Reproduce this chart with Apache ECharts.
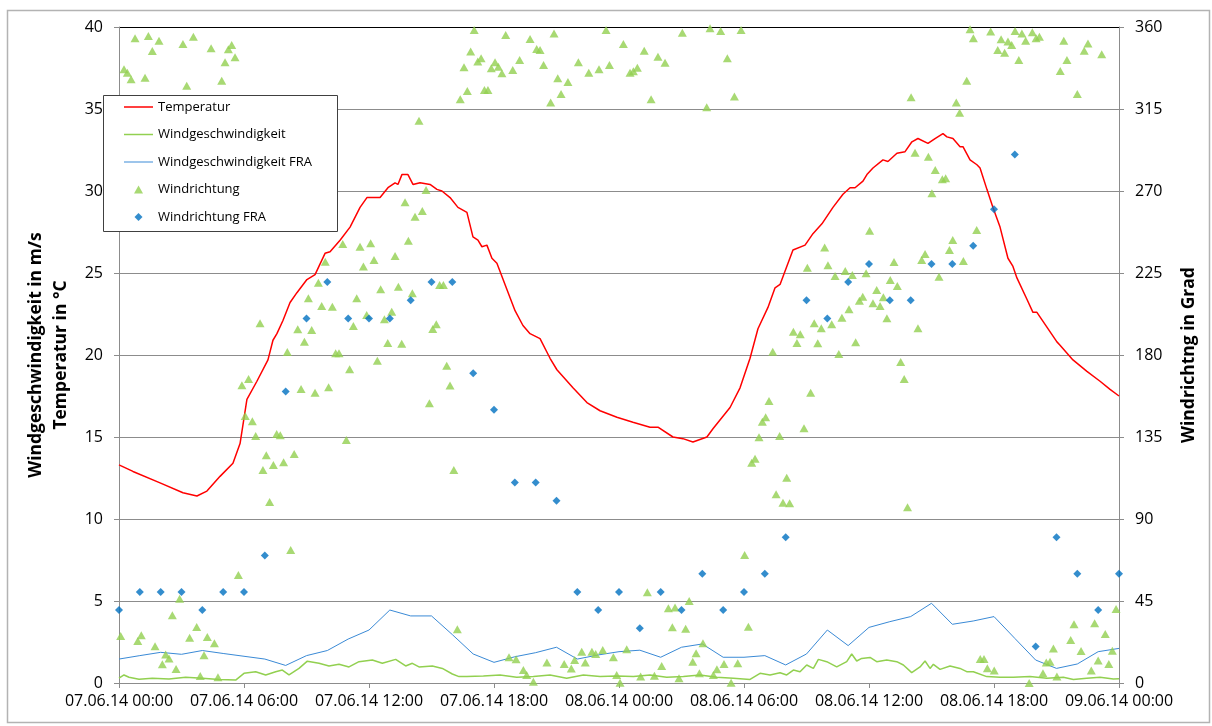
<!DOCTYPE html>
<html><head><meta charset="utf-8">
<script src="https://cdn.jsdelivr.net/npm/echarts@6/dist/echarts.min.js"></script>
<style>html,body{margin:0;padding:0;background:#fff}#c{width:1212px;height:726px}</style>
</head><body><div id="c"></div>
<script>
// x tick labels (every 6 hours from 07.06.14 00:00)
const xTickLabels = ['07.06.14 00:00','07.06.14 06:00','07.06.14 12:00','07.06.14 18:00','08.06.14 00:00','08.06.14 06:00','08.06.14 12:00','08.06.14 18:00','09.06.14 00:00'];

// Temperatur (hours since start, °C)
const tempHours = [0,0.67,1.97,3.07,3.74,4.22,4.85,5.47,5.81,6.14,6.62,7.15,7.39,7.58,7.87,8.21,8.54,9.02,9.41,9.89,10.13,10.61,11.09,11.57,11.90,12.53,12.91,13.25,13.39,13.58,13.87,14.11,14.45,14.93,15.26,15.50,15.89,16.27,16.70,16.99,17.23,17.42,17.66,17.90,18.14,18.62,19.01,19.39,19.73,20.21,20.69,21.02,21.79,22.46,23.09,23.90,24.67,25.49,25.87,26.59,27.07,27.55,28.22,28.51,29.33,29.81,30.29,30.67,31.15,31.49,31.73,32.35,32.93,33.31,33.74,34.27,34.75,35.09,35.33,35.71,35.90,36.19,36.67,36.91,37.34,37.73,38.06,38.35,38.83,39.17,39.55,39.74,40.03,40.37,40.51,40.85,41.18,41.33,41.66,41.95,42.29,42.67,42.91,43.10,43.58,43.87,44.06,44.54,45.02,45.17,45.79,46.46,47.09,47.57,48];
const tempValues = [13.3,12.9,12.2,11.6,11.4,11.7,12.6,13.4,14.6,17.3,18.4,19.7,20.9,21.3,22.1,23.2,23.8,24.6,24.9,26.2,26.3,27.0,27.8,29.0,29.6,29.6,30.2,30.5,30.4,31.0,31.0,30.4,30.5,30.4,30.1,30.0,29.6,29.0,28.7,27.2,27.0,26.6,26.7,25.9,25.6,24.0,22.7,21.8,21.3,21.0,19.8,19.1,18.0,17.1,16.6,16.2,15.9,15.6,15.6,15.0,14.9,14.7,15.0,15.5,16.8,18.0,19.8,21.6,22.9,24.1,24.3,26.4,26.7,27.4,28.0,29.0,29.8,30.2,30.2,30.6,31.0,31.4,31.9,31.8,32.3,32.4,33.0,33.2,32.9,33.2,33.5,33.3,33.2,32.7,32.7,31.9,31.6,31.4,30.1,29.0,27.8,25.9,25.4,24.7,23.4,22.6,22.6,21.7,20.8,20.6,19.7,19.0,18.4,17.9,17.5];

// Windgeschwindigkeit (m/s)
const windHours = [0,0.24,0.48,0.96,1.6,2.4,3.2,4.0,4.8,5.6,6.0,6.56,7.04,7.52,7.84,8.16,8.64,9.04,9.6,10.08,10.56,11.04,11.52,12.16,12.64,13.28,13.76,14.08,14.4,15.04,15.52,16.0,16.32,16.69,17.49,18.29,19.09,19.89,20.69,21.49,22.29,23.09,23.89,24.69,25.49,26.29,27.09,27.89,28.69,29.49,30.29,30.77,31.25,31.73,32.05,32.37,32.69,33.01,33.33,33.57,33.97,34.45,34.93,35.17,35.41,35.65,36.05,36.37,36.85,37.33,37.65,38.05,38.45,38.69,38.93,39.09,39.41,39.89,40.37,40.69,41.01,41.65,42.29,42.93,43.73,44.53,45.33,45.81,46.45,47.09,47.73,48];
const windValues = [0.29,0.49,0.35,0.23,0.29,0.24,0.35,0.29,0.22,0.18,0.59,0.69,0.49,0.69,0.79,0.49,0.89,1.33,1.20,1.04,1.14,0.98,1.30,1.40,1.20,1.44,1.04,1.20,0.98,1.04,0.89,0.55,0.39,0.39,0.43,0.49,0.35,0.39,0.49,0.29,0.49,0.39,0.43,0.39,0.49,0.35,0.39,0.49,0.35,0.29,0.22,0.59,0.49,0.63,0.49,0.79,0.69,1.10,0.89,1.44,1.30,0.98,1.30,1.77,1.34,1.50,1.56,1.30,1.40,1.30,1.10,0.63,0.98,1.34,0.89,1.14,0.83,1.04,0.89,0.69,0.69,0.39,0.35,0.35,0.39,0.29,0.35,0.22,0.29,0.35,0.24,0.26];

// FRA hourly values
const fraHours = [0,1,2,3,4,5,6,7,8,9,10,11,12,13,14,15,16,17,18,19,20,21,22,23,24,25,26,27,28,29,30,31,32,33,34,35,36,37,38,39,40,41,42,43,44,45,46,47,48];
const fraWindValues = [1.46,1.67,1.87,1.75,1.98,1.80,1.63,1.46,1.07,1.67,1.98,2.68,3.23,4.45,4.09,4.09,2.95,1.77,1.26,1.60,1.85,2.18,1.46,1.71,1.91,2.00,1.57,2.18,2.38,1.57,1.57,1.67,1.10,1.77,3.23,2.28,3.39,3.74,4.05,4.86,3.58,3.78,4.05,2.72,1.40,0.89,1.16,1.91,2.11];
const fraDirValues = [40,50,50,50,40,50,50,70,160,200,220,200,200,200,210,220,220,170,150,110,110,100,50,40,50,30,50,40,60,40,50,60,80,210,200,220,230,210,210,230,230,240,260,290,20,80,60,40,60];

// Windrichtung (degrees)
const dirHours = [0.08,0.24,0.40,0.58,0.77,0.90,1.07,1.25,1.41,1.60,1.73,1.92,2.08,2.24,2.40,2.56,2.74,2.91,3.07,3.25,3.39,3.57,3.73,3.90,4.08,4.24,4.42,4.58,4.75,4.93,5.09,5.25,5.41,5.57,5.73,5.90,6.06,6.22,6.40,6.56,6.77,6.91,7.07,7.23,7.41,7.57,7.74,7.90,8.08,8.24,8.41,8.58,8.74,8.90,9.09,9.25,9.41,9.57,9.73,9.90,10.06,10.24,10.40,10.56,10.74,10.91,11.07,11.25,11.41,11.57,11.73,11.89,12.08,12.24,12.40,12.56,12.74,12.90,13.09,13.25,13.41,13.57,13.73,13.89,14.08,14.21,14.40,14.56,14.74,14.90,15.06,15.23,15.39,15.57,15.73,15.89,16.07,16.24,16.38,16.56,16.72,16.88,17.05,17.22,17.38,17.54,17.71,17.87,18.05,18.21,18.38,18.56,18.72,18.90,19.06,19.23,19.41,19.57,19.73,19.89,20.05,20.21,20.38,20.54,20.72,20.88,21.06,21.22,21.37,21.55,21.71,21.87,22.05,22.21,22.38,22.55,22.70,22.88,23.04,23.22,23.38,23.54,23.73,23.89,24.05,24.21,24.37,24.53,24.69,24.88,25.04,25.21,25.36,25.54,25.70,25.87,26.05,26.21,26.37,26.56,26.69,26.88,27.04,27.20,27.37,27.54,27.70,27.86,28.03,28.21,28.37,28.53,28.70,28.88,29.04,29.20,29.38,29.54,29.70,29.86,30.03,30.21,30.37,30.53,30.72,30.88,31.04,31.20,31.38,31.54,31.71,31.87,32.05,32.19,32.37,32.54,32.70,32.88,33.04,33.20,33.37,33.54,33.71,33.87,34.03,34.21,34.37,34.55,34.70,34.86,35.04,35.20,35.36,35.54,35.70,35.86,36.03,36.19,36.37,36.53,36.69,36.86,37.02,37.20,37.36,37.52,37.69,37.85,38.02,38.21,38.35,38.53,38.69,38.85,39.02,39.18,39.36,39.52,39.68,39.86,40.02,40.19,40.35,40.53,40.69,40.85,41.01,41.17,41.34,41.52,41.68,41.84,42.01,42.18,42.34,42.51,42.67,42.85,43.01,43.19,43.34,43.52,43.69,43.84,44.02,44.18,44.35,44.51,44.69,44.85,45.02,45.18,45.35,45.50,45.68,45.84,46.00,46.18,46.33,46.51,46.67,46.83,47.00,47.17,47.34,47.51,47.68,47.86];
const dirValues = [25.8,336.8,334.9,331.3,353.8,23.0,26.2,332.2,355.1,346.8,20.1,352.5,10.3,15.7,13.5,37.2,7.7,46.3,350.7,327.8,24.9,354.7,30.7,3.8,15.2,25.2,348.3,21.8,3.1,330.5,340.6,347.8,350.1,343.4,59.3,163.4,146.5,166.8,143.6,135.6,197.4,116.9,125.0,99.3,119.6,136.6,135.9,121.1,181.6,73.0,125.7,194.1,161.3,187.3,211.1,193.7,159.3,219.7,206.9,231.2,162.3,206.5,180.9,180.9,240.9,133.4,172.2,195.9,211.1,239.4,228.5,202.0,241.3,232.1,176.9,216.1,199.6,186.6,203.8,234.3,217.5,186.2,263.8,242.7,213.9,255.9,308.6,259.0,270.6,153.5,194.3,196.9,218.4,218.4,174.1,163.2,116.9,29.5,320.3,337.9,324.9,346.5,358.4,341.0,342.8,325.4,325.4,337.3,340.6,338.2,334.6,355.6,14.1,336.4,13.0,341.9,7.1,4.4,353.4,0.7,347.9,347.4,339.2,11.2,318.5,356.5,331.9,323.2,10.4,329.8,8.0,12.6,340.6,17.2,11.2,334.9,17.2,15.9,336.8,18.1,358.4,339.2,14.1,4.4,0.2,350.7,18.5,334.9,335.7,337.7,3.5,347.0,49.8,320.3,4.0,343.7,9.3,340.4,41.0,30.6,41.5,2.6,356.9,29.8,45.0,11.7,16.3,5.3,21.8,316.0,359.3,4.4,7.5,357.8,10.4,342.8,0.2,321.8,10.8,358.4,70.2,30.9,120.9,123.1,134.8,143.4,145.8,154.8,181.8,103.6,135.6,98.9,112.7,98.6,192.8,186.6,191.4,139.8,227.9,159.3,197.4,186.4,194.7,239.0,229.2,196.9,223.4,180.6,200.5,226.1,205.1,223.9,187.0,209.8,212.0,224.8,248.2,208.4,215.7,206.9,211.7,200.1,221.2,231.0,217.9,176.2,166.8,96.4,321.4,291.0,194.7,232.1,235.4,288.8,268.7,281.5,223.0,276.4,277.0,237.6,243.1,318.5,313.0,231.6,330.5,358.8,353.8,248.6,13.2,13.2,8.1,357.5,6.8,347.4,353.3,345.9,352.0,350.1,357.8,341.9,356.5,352.5,0.0,357.1,353.8,354.7,5.3,11.2,11.7,19.0,3.5,335.9,352.5,341.9,23.6,32.2,323.2,17.6,347.0,351.0,6.8,32.8,12.3,345.0,26.9,10.4,17.7,40.6];

const seriesNames = ['Temperatur','Windgeschwindigkeit','Windgeschwindigkeit FRA','Windrichtung','Windrichtung FRA'];
const leftAxisTitle = ['Windgeschwindigkeit in m/s','Temperatur in °C'];
const rightAxisTitle = 'Windrichtng in Grad';

function zip(a,b){return a.map((v,i)=>[v,b[i]]);}

const FONT = '"Open Sans", "Liberation Sans", sans-serif';
const chart = echarts.init(document.getElementById('c'), null, {renderer:'canvas'});
const gridColors = ['#8c8c8c','#8c8c8c','#8c8c8c','#8c8c8c','#8c8c8c','#8c8c8c','#8c8c8c','#8c8c8c','#000000'];

// legend icon shapes (29 x 8 box)
const ICON_LINE_THICK = 'path://M0,0M29,8M0,3.25L29,3.25L29,4.75L0,4.75Z';
const ICON_LINE_THIN = 'path://M0,0M29,8M0,3.5L29,3.5L29,4.5L0,4.5Z';
const ICON_TRI = 'path://M0,0M29,8M10,8L14.5,0L19,8Z';
const ICON_DIA = 'path://M0,0M29,8M14.5,0L18.5,4L14.5,8L10.5,4Z';

chart.setOption({
  animation:false,
  backgroundColor:'#ffffff',
  grid:{left:119, right:93, top:27, bottom:43, containLabel:false},
  legend:{
    orient:'vertical', left:103, top:95,
    padding:[4,5,5,21], itemWidth:29, itemHeight:8, itemGap:11.5, itemTextGap:5,
    textStyle:{fontFamily:FONT, fontSize:13, color:'#000', lineHeight:16},
    data:[
      {name:seriesNames[0], icon:ICON_LINE_THICK},
      {name:seriesNames[1], icon:ICON_LINE_THICK},
      {name:seriesNames[2], icon:ICON_LINE_THIN},
      {name:seriesNames[3], icon:ICON_TRI},
      {name:seriesNames[4], icon:ICON_DIA}
    ], z:5
  },
  xAxis:{
    type:'value', min:0, max:48, interval:6,
    axisLine:{show:true, lineStyle:{color:'#8c8c8c', width:1}},
    axisTick:{show:true, length:5, lineStyle:{color:'#8c8c8c'}},
    axisLabel:{fontFamily:FONT, fontSize:16, color:'#000', margin:10,
      formatter:(v)=>xTickLabels[Math.round(v/6)] || ''},
    splitLine:{show:false}
  },
  yAxis:[
    {type:'value', min:0, max:40, interval:5, position:'left',
     axisLine:{show:true, lineStyle:{color:'#8c8c8c'}},
     axisTick:{show:true, length:5, lineStyle:{color:'#8c8c8c'}},
     axisLabel:{fontFamily:FONT, fontSize:16, color:'#000', margin:16},
     splitLine:{show:true, lineStyle:{color:gridColors, width:1}}},
    {type:'value', min:0, max:360, interval:45, position:'right',
     axisLine:{show:true, lineStyle:{color:'#8c8c8c'}},
     axisTick:{show:true, length:5, lineStyle:{color:'#8c8c8c'}},
     axisLabel:{fontFamily:FONT, fontSize:16, color:'#000', margin:16},
     splitLine:{show:false}}
  ],
  graphic:[
    {type:'rect', z:-10, silent:true, shape:{x:7.5,y:10.5,width:1202,height:712}, style:{fill:'none', stroke:'#b3b3b3', lineWidth:1.5}},
    {type:'rect', z:4, silent:true, shape:{x:103.5,y:95.5,width:234,height:136}, style:{fill:'#ffffff', stroke:'#404040', lineWidth:1}},
    {type:'text', z:5, x:36, y:355, rotation:Math.PI/2, style:{text:leftAxisTitle[0], font:'bold 17.5px '+FONT, fill:'#000', textAlign:'center', textVerticalAlign:'middle'}},
    {type:'text', z:5, x:61, y:355, rotation:Math.PI/2, style:{text:leftAxisTitle[1], font:'bold 17.5px '+FONT, fill:'#000', textAlign:'center', textVerticalAlign:'middle'}},
    {type:'text', z:5, x:1189, y:355, rotation:Math.PI/2, style:{text:rightAxisTitle, font:'bold 17.5px '+FONT, fill:'#000', textAlign:'center', textVerticalAlign:'middle'}}
  ],
  series:[
    {name:seriesNames[0], type:'line', yAxisIndex:0, symbol:'none', data:zip(tempHours,tempValues),
     lineStyle:{color:'#ff0000', width:1.5}, itemStyle:{color:'#ff0000'}, z:2},
    {name:seriesNames[1], type:'line', yAxisIndex:0, symbol:'none', data:zip(windHours,windValues),
     lineStyle:{color:'#92d050', width:1.5}, itemStyle:{color:'#92d050'}, z:2},
    {name:seriesNames[2], type:'line', yAxisIndex:0, symbol:'none', data:zip(fraHours,fraWindValues),
     lineStyle:{color:'#3a8ad6', width:1}, itemStyle:{color:'#3a8ad6'}, z:2},
    {name:seriesNames[3], type:'scatter', yAxisIndex:1, symbol:'triangle', symbolSize:[9,8], data:zip(dirHours,dirValues),
     itemStyle:{color:'#92d050'}, z:2},
    {name:seriesNames[4], type:'scatter', yAxisIndex:1, symbol:'diamond', symbolSize:8, data:zip(fraHours,fraDirValues),
     itemStyle:{color:'#0070c0'}, z:2}
  ]
});
</script></body></html>
